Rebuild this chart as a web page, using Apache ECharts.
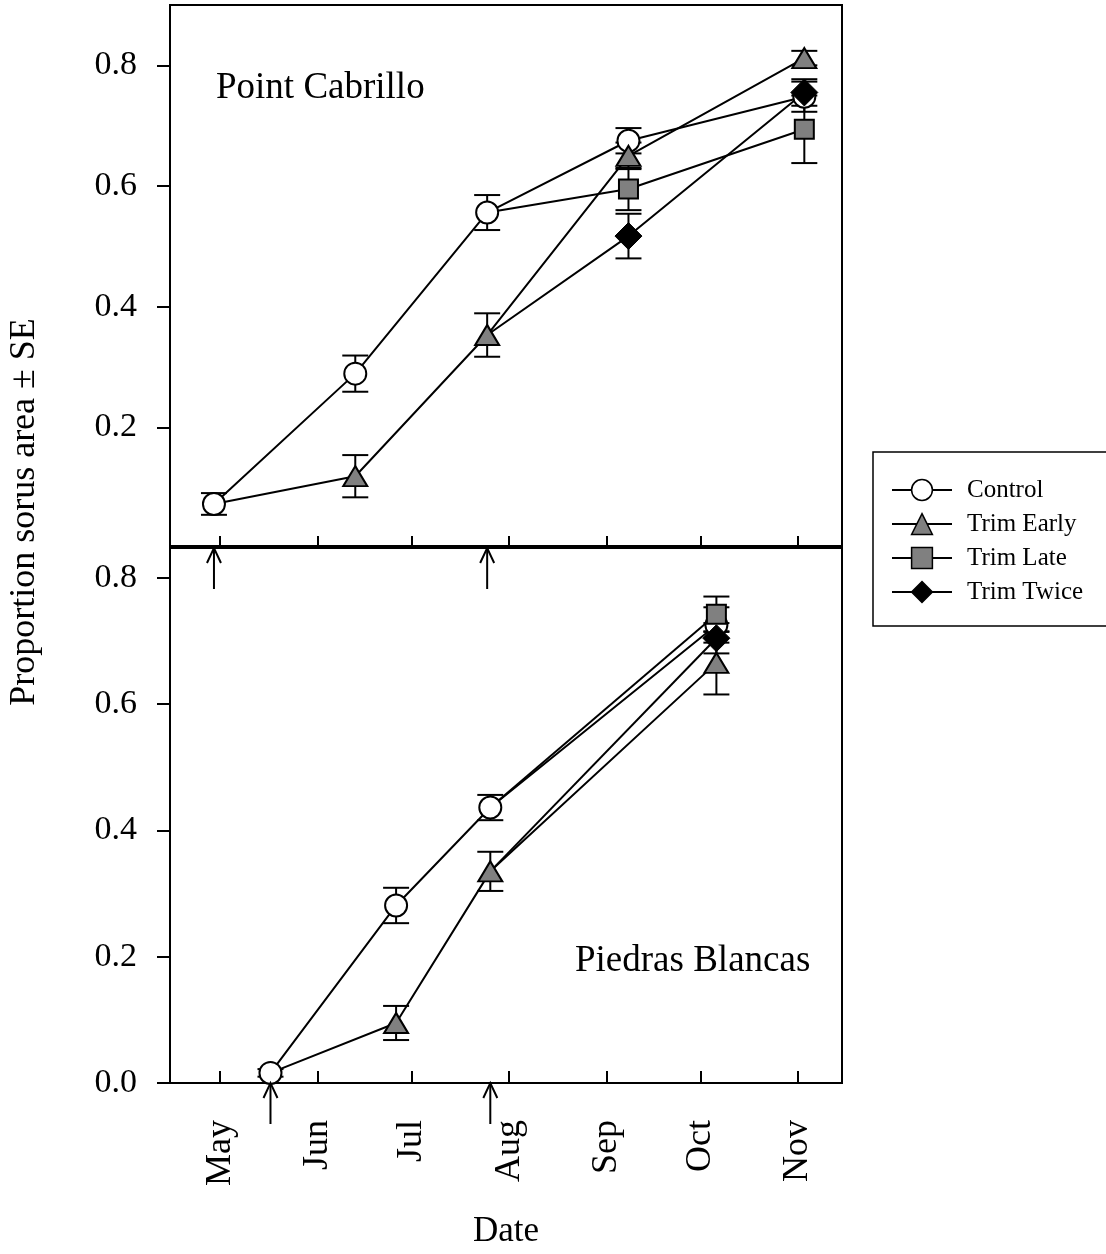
<!DOCTYPE html>
<html>
<head>
<meta charset="utf-8">
<script src="https://cdn.jsdelivr.net/npm/echarts@6/dist/echarts.min.js"></script>
<style>
  html, body { margin: 0; padding: 0; background: #fff; }
  #chart { width: 1106px; height: 1254px; }
</style>
</head>
<body>
<div id="chart"></div>
<script>
// ---- axis ticks -------------------------------------------------------
const monthTicks = ['2001-05-01', '2001-06-01', '2001-07-01', '2001-08-01', '2001-09-01', '2001-10-01', '2001-11-01'];
const monthLabels = ['May', 'Jun', 'Jul', 'Aug', 'Sep', 'Oct', 'Nov'];
const dateRange = ['2001-04-15', '2001-11-15'];
const yTicksTop = [0.2, 0.4, 0.6, 0.8];
const yTicksBottom = [0.0, 0.2, 0.4, 0.6, 0.8];
const seriesNames = ['Control', 'Trim Early', 'Trim Late', 'Trim Twice'];

// ---- Point Cabrillo (mean proportion sorus area, SE) -------------------
const pcControlDates = ['2001-04-29', '2001-06-13', '2001-07-25', '2001-09-08', '2001-11-03'];
const pcControlMean  = [0.073, 0.289, 0.556, 0.675, 0.748];
const pcControlSE    = [0.018, 0.030, 0.029, 0.021, 0.025];
const pcEarlyDates   = ['2001-04-29', '2001-06-13', '2001-07-25', '2001-09-08', '2001-11-03'];
const pcEarlyMean    = [0.073, 0.119, 0.353, 0.650, 0.812];
const pcEarlySE      = [null, 0.035, 0.036, 0.022, 0.012];
const pcLateDates    = ['2001-07-25', '2001-09-08', '2001-11-03'];
const pcLateMean     = [0.556, 0.595, 0.694];
const pcLateSE       = [null, 0.035, 0.056];
const pcTwiceDates   = ['2001-07-25', '2001-09-08', '2001-11-03'];
const pcTwiceMean    = [0.353, 0.517, 0.755];
const pcTwiceSE      = [null, 0.037, 0.022];
const pcTrimDates    = ['2001-04-29', '2001-07-25'];

// ---- Piedras Blancas ----------------------------------------------------
const pbControlDates = ['2001-05-17', '2001-06-26', '2001-07-26', '2001-10-06'];
const pbControlMean  = [0.016, 0.281, 0.436, 0.725];
const pbControlSE    = [0.006, 0.028, 0.020, 0.028];
const pbEarlyDates   = ['2001-05-17', '2001-06-26', '2001-07-26', '2001-10-06'];
const pbEarlyMean    = [0.016, 0.095, 0.335, 0.665];
const pbEarlySE      = [null, 0.027, 0.031, 0.050];
const pbLateDates    = ['2001-07-26', '2001-10-06'];
const pbLateMean     = [0.436, 0.742];
const pbLateSE       = [null, 0.028];
const pbTwiceDates   = ['2001-07-26', '2001-10-06'];
const pbTwiceMean    = [0.335, 0.704];
const pbTwiceSE      = [null, 0.024];
const pbTrimDates    = ['2001-05-17', '2001-07-26'];

// ---- helpers ------------------------------------------------------------
const FONT = "'Liberation Serif', 'Times New Roman', serif";
const ts = s => { const [y, m, d] = s.split('-').map(Number); return Date.UTC(y, m - 1, d); };
const monthTickTs = monthTicks.map(ts);

const markerStyles = {
  'Control':    { symbol: 'circle',   size: 22,       fill: '#ffffff', border: 2 },
  'Trim Early': { symbol: 'triangle', size: [24, 20], fill: '#808080', border: 2 },
  'Trim Late':  { symbol: 'rect',     size: 19,       fill: '#808080', border: 2 },
  'Trim Twice': { symbol: 'diamond',  size: [27, 27], fill: '#000000', border: 1 }
};

const panels = [
  { grid: 0, groups: [
    { name: 'Control',    dates: pcControlDates, mean: pcControlMean, se: pcControlSE },
    { name: 'Trim Early', dates: pcEarlyDates,   mean: pcEarlyMean,   se: pcEarlySE },
    { name: 'Trim Late',  dates: pcLateDates,    mean: pcLateMean,    se: pcLateSE },
    { name: 'Trim Twice', dates: pcTwiceDates,   mean: pcTwiceMean,   se: pcTwiceSE }
  ], trims: pcTrimDates },
  { grid: 1, groups: [
    { name: 'Control',    dates: pbControlDates, mean: pbControlMean, se: pbControlSE },
    { name: 'Trim Early', dates: pbEarlyDates,   mean: pbEarlyMean,   se: pbEarlySE },
    { name: 'Trim Late',  dates: pbLateDates,    mean: pbLateMean,    se: pbLateSE },
    { name: 'Trim Twice', dates: pbTwiceDates,   mean: pbTwiceMean,   se: pbTwiceSE }
  ], trims: pbTrimDates }
];

function renderErrorBar(params, api) {
  const t = api.value(0), v = api.value(1), e = api.value(2);
  const hi = api.coord([t, v + e]);
  const lo = api.coord([t, v - e]);
  const w = 13;
  const st = { stroke: '#000', lineWidth: 2 };
  return { type: 'group', children: [
    { type: 'line', shape: { x1: hi[0], y1: hi[1], x2: lo[0], y2: lo[1] }, style: st },
    { type: 'line', shape: { x1: hi[0] - w, y1: hi[1], x2: hi[0] + w, y2: hi[1] }, style: st },
    { type: 'line', shape: { x1: lo[0] - w, y1: lo[1], x2: lo[0] + w, y2: lo[1] }, style: st }
  ]};
}

// trimming dates: upward arrows hanging below the panel's date axis
function renderArrow(params, api) {
  const p = api.coord([api.value(0), 0]);
  const x = p[0], y = p[1];
  const st = { stroke: '#000', lineWidth: 2, fill: null };
  return { type: 'group', children: [
    { type: 'line', shape: { x1: x, y1: y, x2: x, y2: y + 41 }, style: st },
    { type: 'polyline', shape: { points: [[x - 7, y + 15], [x, y], [x + 7, y + 15]] }, style: st }
  ]};
}

const lineSeries = [], barSeries = [], markSeries = [], arrowSeries = [];
panels.forEach(panel => {
  panel.groups.forEach(g => {
    const m = markerStyles[g.name];
    lineSeries.push({
      type: 'line', name: g.name,
      xAxisIndex: panel.grid, yAxisIndex: panel.grid,
      data: g.dates.map((d, i) => [ts(d), g.mean[i]]),
      showSymbol: false, symbol: m.symbol, symbolSize: m.size,
      itemStyle: { color: m.fill, borderColor: '#000', borderWidth: m.border },
      lineStyle: { color: '#000', width: 2 },
      silent: true, z: 2
    });
    const pts = g.dates.map((d, i) => [ts(d), g.mean[i], g.se[i]]).filter(p => p[2] !== null);
    barSeries.push({
      type: 'custom', xAxisIndex: panel.grid, yAxisIndex: panel.grid,
      data: pts, encode: { x: 0, y: 1 }, renderItem: renderErrorBar, silent: true, z: 3
    });
    markSeries.push({
      type: 'scatter', name: g.name,
      xAxisIndex: panel.grid, yAxisIndex: panel.grid,
      data: pts.map(p => [p[0], p[1]]),
      symbol: m.symbol, symbolSize: m.size,
      itemStyle: { color: m.fill, borderColor: '#000', borderWidth: m.border, opacity: 1 },
      silent: true, z: 4
    });
  });
  arrowSeries.push({
    type: 'custom', xAxisIndex: panel.grid, yAxisIndex: panel.grid,
    data: panel.trims.map(d => [ts(d), 0]), encode: { x: 0, y: 1 },
    renderItem: renderArrow, silent: true, clip: false, z: 5
  });
});

// date axis: a value axis over UTC timestamps with ticks at month starts
function xAxisFor(i) {
  return {
    type: 'value', gridIndex: i,
    min: ts(dateRange[0]), max: ts(dateRange[1]),
    name: i === 1 ? 'Date' : '',
    nameLocation: 'middle', nameGap: 131,
    nameTextStyle: { fontFamily: FONT, fontSize: 35, color: '#000' },
    axisLine: { show: true, lineStyle: { color: '#000', width: 2 } },
    axisTick: { show: true, inside: true, length: 12, customValues: monthTickTs,
                lineStyle: { color: '#000', width: 2 } },
    axisLabel: i === 1 ? {
      show: true, rotate: 90, margin: 37, customValues: monthTickTs,
      fontFamily: FONT, fontSize: 36, color: '#000',
      formatter: v => monthLabels[monthTickTs.indexOf(v)] || ''
    } : { show: false },
    splitLine: { show: false }
  };
}

function yAxisFor(i, max, ticks) {
  return {
    type: 'value', gridIndex: i, min: 0, max: max, interval: 0.2,
    axisLine: { show: true, lineStyle: { color: '#000', width: 2 } },
    axisTick: { show: true, length: 13, customValues: ticks, lineStyle: { color: '#000', width: 2 } },
    axisLabel: { margin: 33, customValues: ticks, fontFamily: FONT, fontSize: 34, color: '#000',
                 formatter: v => v.toFixed(1) },
    splitLine: { show: false }
  };
}

const chart = echarts.init(document.getElementById('chart'), null, { renderer: 'canvas' });
chart.setOption({
  animation: false,
  backgroundColor: '#fff',
  grid: [
    { left: 170, top: 5, width: 672, height: 543, show: true, borderColor: '#000', borderWidth: 2, backgroundColor: 'transparent' },
    { left: 170, top: 546, width: 672, height: 537, show: true, borderColor: '#000', borderWidth: 2, backgroundColor: 'transparent' }
  ],
  xAxis: [xAxisFor(0), xAxisFor(1)],
  yAxis: [yAxisFor(0, 0.9, yTicksTop), yAxisFor(1, 0.85, yTicksBottom)],
  legend: {
    data: seriesNames, orient: 'vertical', left: 873, top: 452,
    itemWidth: 60, itemHeight: 26, itemGap: 8,
    padding: [25, 60, 21, 18],
    borderColor: '#000', borderWidth: 1.5,
    selectedMode: false,
    itemStyle: { borderColor: '#000', borderWidth: 1.5 },
    textStyle: { fontFamily: FONT, fontSize: 25, color: '#000', lineHeight: 26, padding: [0, 0, 0, 10] }
  },
  graphic: [
    { type: 'text', x: 25, y: 512, rotation: Math.PI / 2,
      style: { text: 'Proportion sorus area \u00B1 SE', fontFamily: FONT, fontSize: 36, fill: '#000',
               align: 'center', verticalAlign: 'middle' } },
    { type: 'text', x: 216, y: 88,
      style: { text: 'Point Cabrillo', fontFamily: FONT, fontSize: 37, fill: '#000',
               align: 'left', verticalAlign: 'middle' } },
    { type: 'text', x: 575, y: 961,
      style: { text: 'Piedras Blancas', fontFamily: FONT, fontSize: 37, fill: '#000',
               align: 'left', verticalAlign: 'middle' } }
  ],
  series: [...lineSeries, ...barSeries, ...markSeries, ...arrowSeries]
});
</script>
</body>
</html>
